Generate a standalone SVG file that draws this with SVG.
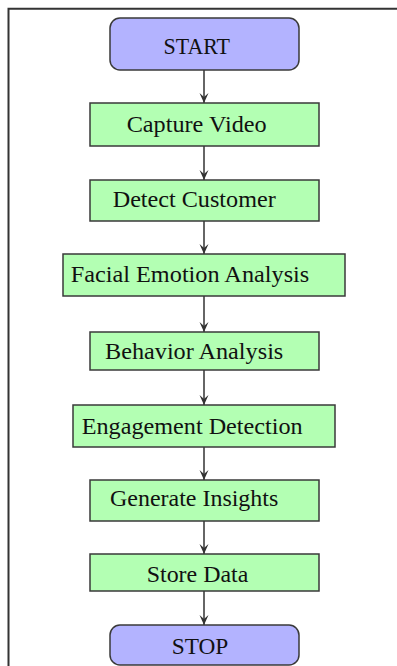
<svg xmlns="http://www.w3.org/2000/svg" width="397" height="666" viewBox="0 0 397 666">
<style>
.term{fill:#b3b3ff;stroke:#3a3a3a;stroke-width:1.5}
.proc{fill:#b3ffb3;stroke:#3a3a3a;stroke-width:1.5}
.lbl{font-family:"Liberation Serif","Times New Roman",serif;font-size:24px;fill:#111}
.conn{stroke:#333;stroke-width:1.5;fill:none;marker-end:url(#ah)}
.frame{stroke:#333;stroke-width:2;fill:none}
</style>
<defs>
<marker id="ah" viewBox="0 0 10 10" refX="10" refY="5" markerWidth="10" markerHeight="10" markerUnits="userSpaceOnUse" orient="auto">
<path d="M0,0.5 L10,5 L0,9.5 L4,5 z" fill="#333"/>
</marker>
</defs>
<path class="frame" d="M8.5,666 V8.8 H397"/>
<g id="connectors">
<line class="conn" x1="204" y1="70" x2="204" y2="103"/>
<line class="conn" x1="204" y1="146" x2="204" y2="180"/>
<line class="conn" x1="204" y1="221" x2="204" y2="254"/>
<line class="conn" x1="204" y1="296" x2="204" y2="332"/>
<line class="conn" x1="204" y1="370" x2="204" y2="405"/>
<line class="conn" x1="204" y1="447" x2="204" y2="480"/>
<line class="conn" x1="204" y1="521" x2="204" y2="554"/>
<line class="conn" x1="204" y1="591" x2="204" y2="625"/>
</g>
<g id="start"><rect class="term" x="110" y="18" width="189" height="52" rx="10"/><text class="lbl" x="163.5" y="54.3" textLength="66.5" lengthAdjust="spacingAndGlyphs">START</text></g>
<g id="capture"><rect class="proc" x="90" y="103" width="229" height="43"/><text class="lbl" x="126.7" y="132.3" textLength="140" lengthAdjust="spacingAndGlyphs">Capture Video</text></g>
<g id="detect"><rect class="proc" x="90" y="180" width="229" height="41"/><text class="lbl" x="112.7" y="206.7" textLength="163" lengthAdjust="spacingAndGlyphs">Detect Customer</text></g>
<g id="facial"><rect class="proc" x="63" y="254" width="282" height="42"/><text class="lbl" x="70.7" y="281.7" textLength="238.6" lengthAdjust="spacingAndGlyphs">Facial Emotion Analysis</text></g>
<g id="behavior"><rect class="proc" x="90" y="332" width="229" height="38"/><text class="lbl" x="105" y="359" textLength="178.3" lengthAdjust="spacingAndGlyphs">Behavior Analysis</text></g>
<g id="engagement"><rect class="proc" x="73" y="405" width="262" height="42"/><text class="lbl" x="81.7" y="434" textLength="221" lengthAdjust="spacingAndGlyphs">Engagement Detection</text></g>
<g id="generate"><rect class="proc" x="90" y="480" width="229" height="41"/><text class="lbl" x="110" y="506" textLength="168.3" lengthAdjust="spacingAndGlyphs">Generate Insights</text></g>
<g id="store"><rect class="proc" x="90" y="554" width="229" height="37"/><text class="lbl" x="146.7" y="581.7" textLength="101.6" lengthAdjust="spacingAndGlyphs">Store Data</text></g>
<g id="stop"><rect class="term" x="110" y="625" width="189" height="40" rx="10"/><text class="lbl" x="171.7" y="654.3" textLength="56.6" lengthAdjust="spacingAndGlyphs">STOP</text></g>
</svg>
